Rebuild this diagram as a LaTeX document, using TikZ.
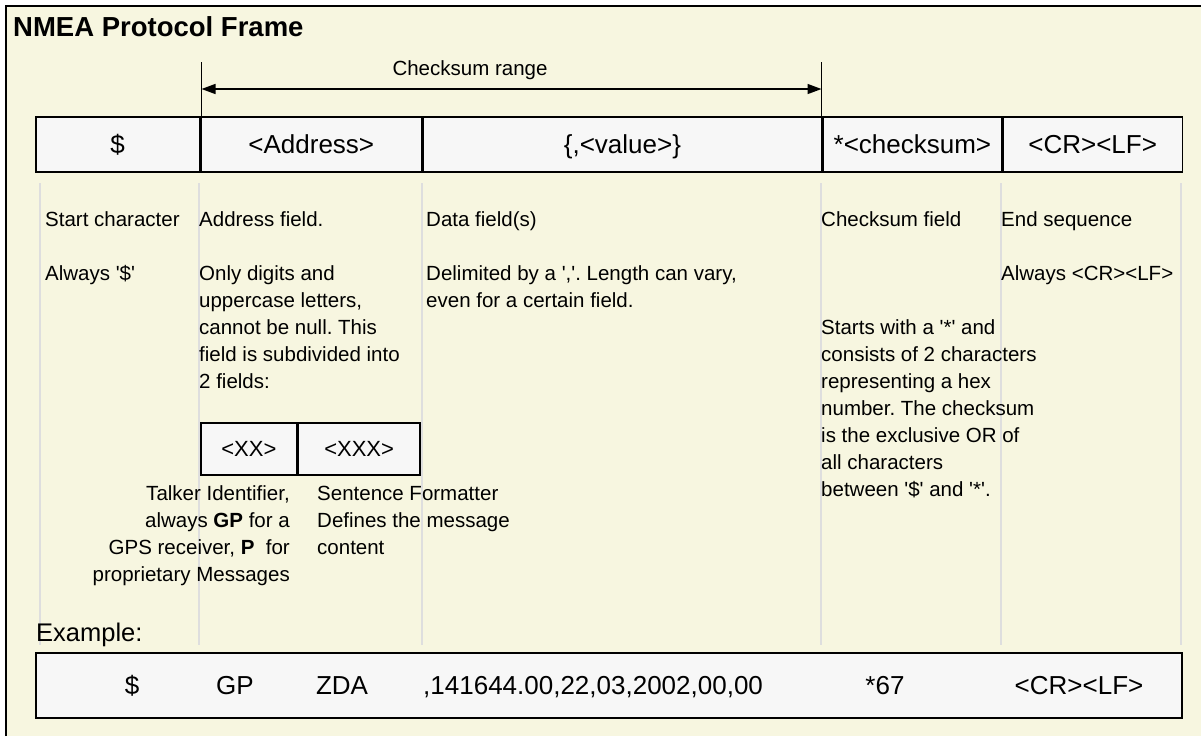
\documentclass[tikz,border=0pt]{standalone}
\usepackage{fontspec}
\setmainfont{Liberation Sans}
\usetikzlibrary{positioning,arrows.meta}
\definecolor{cream}{RGB}{247,246,224}
\definecolor{boxgray}{RGB}{247,247,247}
\definecolor{guidegray}{RGB}{222,222,222}
\newcommand\sq{\textquotesingle}
\frenchspacing

\begin{document}
\begin{tikzpicture}
	[x=1pt,y=-1pt,
	 field/.style={draw=black,line width=1.5pt,fill=boxgray,inner sep=0pt,minimum height=55pt,text height=18.6pt,text depth=0pt,font=\fontsize{26}{30}\selectfont},
	 subfield/.style={field,minimum height=52pt,text height=15.8pt,font=\fontsize{22}{26}\selectfont},
	 desc/.style={inner sep=0pt,align=left,anchor=base west,font=\fontsize{20.5}{27}\selectfont},
	 guide/.style={draw=guidegray,line width=1.5pt},
	 sampletext/.style={inner sep=0pt,anchor=base,font=\fontsize{26}{30}\selectfont}]
    \useasboundingbox (0,0) rectangle (1201,736);
    \fill[white] (0,0) rectangle (1201,736);
    \fill[cream] (6,6) rectangle (1201,736);
    \draw[line width=2pt] (6,736) -- (6,6) -- (1201,6);
    \foreach \gx in {40,199,422,821,1001,1181}
        \draw[guide] (\gx,183) -- (\gx,645);
    \node[anchor=base west,inner sep=0pt,font=\fontsize{27.5}{30}\selectfont\bfseries] (title) at (13,36) {NMEA Protocol Frame};
    % frame fields
    \node[field,minimum width=163.7pt,anchor=west] (dollar) at (35,144.5) {\$};
    \node[field,minimum width=220.7pt,right=0pt of dollar] (addr) {<Address>};
    \node[field,minimum width=398.5pt,right=0pt of addr] (value) {\{,<value>\}};
    \node[field,minimum width=178.5pt,right=0pt of value] (chk) {*<checksum>};
    \node[field,minimum width=179.1pt,right=0pt of chk] (crlf) {<CR><LF>};
    % checksum range
    \coordinate (rangeL) at (201.5,62);
    \coordinate (rangeR) at (821.5,62);
    \coordinate (arrowL) at (201.5,89);
    \coordinate (arrowR) at (821.5,89);
    \draw[line width=1.5pt] (rangeL) -- (rangeL |- addr.north);
    \draw[line width=1.5pt] (rangeR) -- (rangeR |- chk.north);
    \draw[line width=1.5pt,{Triangle[length=14pt,width=10pt]}-{Triangle[length=14pt,width=10pt]}] (arrowL) -- (arrowR);
    \node[desc,anchor=base] (rangelabel) at (470,75.5) {Checksum range};
    % descriptions (placed at the baseline of their last line)
    \node[desc] (startdesc) at (45,226.5) {Start character};
    \node[desc] (startval) at (45,280.5) {Always \sq\$\sq};
    \node[desc] (addrdesc) at (199,226.5) {Address field.};
    \node[desc] (addrval) at (199,388.5) {Only digits and\\uppercase letters,\\cannot be null. This\\field is subdivided into\\2 fields:};
    \node[desc] (datadesc) at (426,226.5) {Data field(s)};
    \node[desc] (dataval) at (426,307.5) {Delimited by a \sq,\sq. Length can vary,\\even for a certain field.};
    \node[desc] (chkdesc) at (821,226.5) {Checksum field};
    \node[desc] (chkval) at (821,496.5) {Starts with a \sq*\sq{} and\\consists of 2 characters\\representing a hex\\number. The checksum\\is the exclusive OR of\\all characters\\between \sq\$\sq{} and \sq*\sq.};
    \node[desc] (enddesc) at (1001,226.5) {End sequence};
    \node[desc] (endval) at (1001,280.5) {Always <CR><LF>};
    % address sub fields
    \node[subfield,minimum width=96.3pt,anchor=west] (talker) at (200,449) {<XX>};
    \node[subfield,minimum width=121.2pt,right=0pt of talker] (formatter) {<XXX>};
    \node[desc,align=right,anchor=base east] (talkerdesc) at (290,581.5) {Talker Identifier,\\always \textbf{GP} for a\\GPS receiver, \textbf{P}\ \ for\\proprietary Messages};
    \node[desc] (formatdesc) at (317,554.5) {Sentence Formatter\\Defines the message\\content};
    % example
    \node[desc,font=\fontsize{25.5}{30}\selectfont] (examplelabel) at (36,641) {Example:};
    \node[draw=black,line width=1.5pt,fill=boxgray,minimum width=1146pt,minimum height=65pt,anchor=west] (examplebox) at (35,685.5) {};
    \node[sampletext] (exdollar) at (132,694) {\$};
    \node[sampletext] (extalker) at (235,694) {GP};
    \node[sampletext] (exformat) at (342,694) {ZDA};
    \node[sampletext,anchor=base west] (exvalue) at (423,694) {,141644.00,22,03,2002,00,00};
    \node[sampletext] (exchk) at (885,694) {*67};
    \node[sampletext] (excrlf) at (1079,694) {<CR><LF>};
\end{tikzpicture}
\end{document}
